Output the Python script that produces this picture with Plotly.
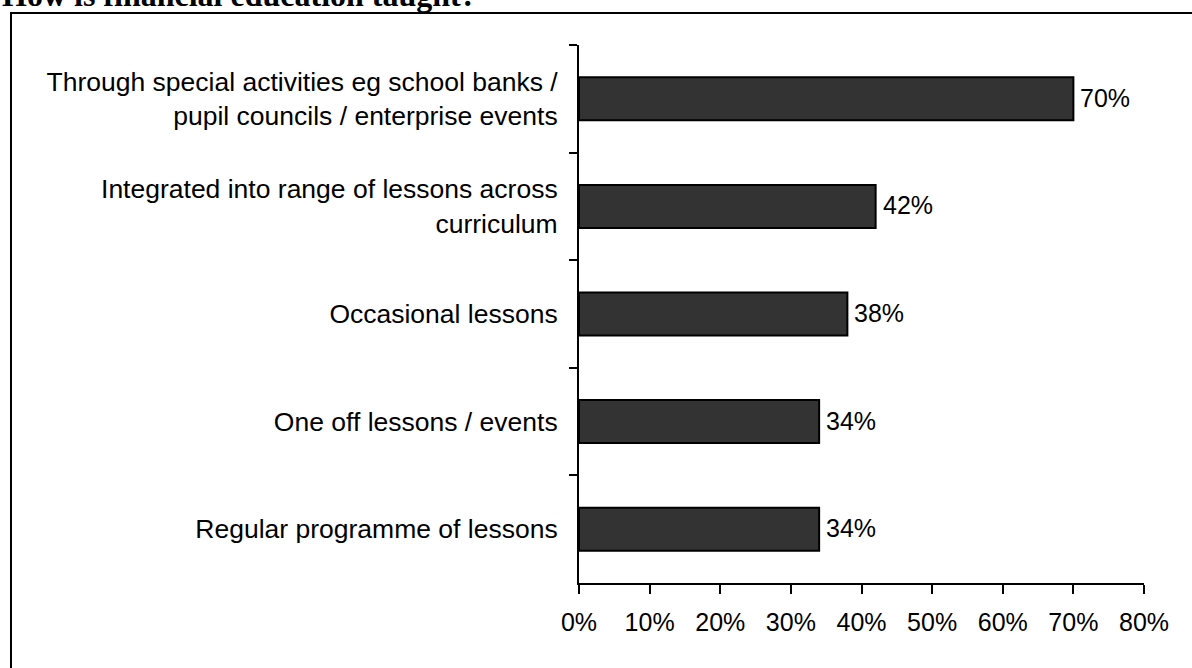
import plotly.graph_objects as go

# Survey responses, listed top to bottom
categories = [
    "Through special activities eg school banks /<br>pupil councils / enterprise events",
    "Integrated into range of lessons across<br>curriculum",
    "Occasional lessons",
    "One off lessons / events",
    "Regular programme of lessons",
]
values = [70, 42, 38, 34, 34]
tick_vals = [0, 10, 20, 30, 40, 50, 60, 70, 80]
tick_text = [f"{v}%" for v in tick_vals]
title_text = "How is financial education taught?"

W, H = 1192, 668
L, R, T, B = 579, 48, 45, 85
plot_w = W - L - R
plot_h = H - T - B

FONT = "Arial, Liberation Sans, sans-serif"

fig = go.Figure()
fig.add_trace(go.Bar(
    x=values,
    y=categories,
    orientation="h",
    marker=dict(color="#333333", line=dict(color="black", width=2)),
    width=0.4,
    hoverinfo="skip",
))

# value labels at the end of each bar
for cat, v in zip(categories, values):
    fig.add_annotation(
        x=v, y=cat, xref="x", yref="y",
        text=f"{v}%", showarrow=False,
        xanchor="left", yanchor="middle", xshift=5, yshift=1,
        font=dict(family=FONT, size=25, color="black"),
    )

# frame around the chart
def px_to_xpaper(px):
    return (px - L) / plot_w

def px_to_ypaper(py):
    return (H - B - py) / plot_h

fig.add_shape(
    type="rect", xref="paper", yref="paper",
    x0=px_to_xpaper(11), x1=px_to_xpaper(1210),
    y0=px_to_ypaper(690), y1=px_to_ypaper(13),
    line=dict(color="black", width=2), fillcolor="rgba(0,0,0,0)",
    layer="below",
)

# heading above the frame
fig.add_annotation(
    x=px_to_xpaper(0), y=px_to_ypaper(-5), xref="paper", yref="paper",
    text=f"<b>{title_text}</b>", showarrow=False,
    xanchor="left", yanchor="middle",
    font=dict(family="Times New Roman, Liberation Serif, serif", size=32, color="black"),
)

fig.update_layout(
    width=W, height=H,
    margin=dict(l=L, r=R, t=T, b=B, autoexpand=False),
    paper_bgcolor="white", plot_bgcolor="white",
    showlegend=False,
    font=dict(family=FONT, size=25, color="black"),
)
fig.update_xaxes(
    range=[0, 80], tickvals=tick_vals, ticktext=tick_text,
    showgrid=False, zeroline=False,
    showline=True, linecolor="black", linewidth=2,
    ticks="outside", ticklen=9, tickwidth=2, tickcolor="black",
    ticklabelstandoff=7,
    tickfont=dict(family=FONT, size=25, color="black"),
    fixedrange=True,
)
fig.update_yaxes(
    type="category", categoryorder="array", categoryarray=categories,
    range=[4.5, -0.5],
    showgrid=False, zeroline=False,
    showline=True, linecolor="black", linewidth=2,
    ticks="outside", ticklen=8, tickwidth=2, tickcolor="black",
    tickson="boundaries",
    ticklabelstandoff=14,
    tickfont=dict(family=FONT, size=26.5, color="black"),
    fixedrange=True,
)

fig.write_html("out.html")
